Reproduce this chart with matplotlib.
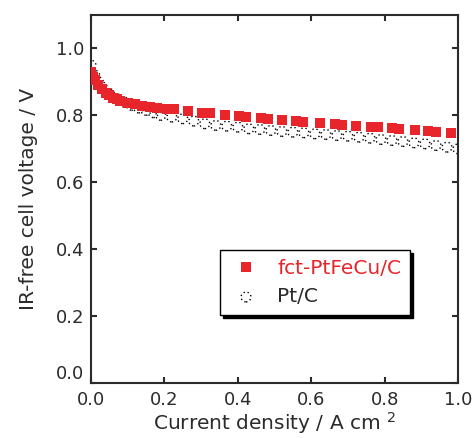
import matplotlib
matplotlib.use("Agg")
import matplotlib.pyplot as plt
from matplotlib.ticker import FormatStrFormatter

# fct-PtFeCu/C (red squares)
fct_j = [0.000, 0.005, 0.01, 0.02, 0.03, 0.04, 0.05, 0.06, 0.07, 0.08,
         0.10, 0.12, 0.14, 0.16, 0.18, 0.206, 0.226, 0.263, 0.302, 0.324,
         0.364, 0.403, 0.422, 0.462, 0.482, 0.520, 0.559, 0.579, 0.623,
         0.665, 0.684, 0.722, 0.762, 0.782, 0.819, 0.839, 0.882, 0.918,
         0.940, 0.981]
fct_v = [0.930, 0.915, 0.905, 0.890, 0.878, 0.868, 0.860, 0.853, 0.848, 0.843,
         0.838, 0.833, 0.829, 0.826, 0.823, 0.820, 0.818, 0.814, 0.808, 0.806,
         0.802, 0.797, 0.795, 0.792, 0.790, 0.786, 0.783, 0.781, 0.778,
         0.774, 0.772, 0.769, 0.766, 0.764, 0.761, 0.759, 0.756, 0.753,
         0.751, 0.748]

# Pt/C (dotted open circles)
pt_j = [0.00, 0.01, 0.02, 0.03, 0.05, 0.07, 0.09, 0.11, 0.13, 0.15,
        0.17, 0.19, 0.22, 0.25, 0.28, 0.31, 0.34, 0.37, 0.40, 0.43,
        0.46, 0.49, 0.52, 0.55, 0.58, 0.61, 0.64, 0.67, 0.70, 0.73,
        0.76, 0.79, 0.82, 0.85, 0.88, 0.91, 0.94, 0.97, 1.00]
pt_v = [0.950, 0.920, 0.900, 0.885, 0.865, 0.850, 0.840, 0.830, 0.822, 0.815,
        0.808, 0.800, 0.795, 0.790, 0.783, 0.775, 0.770, 0.768, 0.765, 0.760,
        0.758, 0.755, 0.752, 0.750, 0.748, 0.745, 0.743, 0.740, 0.738, 0.735,
        0.732, 0.728, 0.725, 0.722, 0.718, 0.715, 0.710, 0.705, 0.700]

ticks = [0.0, 0.2, 0.4, 0.6, 0.8, 1.0]

red = "#e8252a"
ink = "#2b2b2b"

fig = plt.figure(figsize=(4.75, 4.38), dpi=100)
ax = fig.add_axes([0.1916, 0.1256, 0.7726, 0.8402])

ax.plot(fct_j, fct_v, "s", color=red, markersize=7.5, markeredgewidth=0,
        label="fct-PtFeCu/C", zorder=3)
ax.scatter(pt_j, pt_v, s=50, facecolors="none", edgecolors="k",
           linewidths=1.0, linestyles=(0, (1, 2)), label="Pt/C", zorder=2)

ax.set_xlim(0, 1.0)
ax.set_ylim(0, 1.1)
ax.set_xticks(ticks)
ax.set_yticks(ticks)
ax.xaxis.set_major_formatter(FormatStrFormatter("%.1f"))
ax.yaxis.set_major_formatter(FormatStrFormatter("%.1f"))
ax.tick_params(direction="in", length=4, width=1.5, top=True, right=True,
               labelsize=13, colors=ink)
ax.tick_params(axis="x", pad=6)
ax.tick_params(axis="y", pad=5)
for s in ax.spines.values():
    s.set_linewidth(1.5)
    s.set_color(ink)

# lift the y "0.0" a little so it clears the x "0.0"
ax.yaxis.get_major_ticks()[0].label1.set_verticalalignment("bottom")

ax.set_xlabel("Current density / A cm $^{2}$", fontsize=14.5, color=ink, labelpad=0.5)
ax.set_ylabel("IR-free cell voltage / V", fontsize=14.5, color=ink, labelpad=13)

leg = ax.legend(loc="upper left", bbox_to_anchor=(0.351, 0.361), frameon=True,
                fancybox=False, shadow={"color": "black", "alpha": 1.0},
                edgecolor="black", fontsize=14.5, handletextpad=0.7,
                borderpad=0.45, handlelength=1.7, borderaxespad=0,
                labelspacing=0.45)
leg.get_frame().set_linewidth(1.0)
leg.get_texts()[0].set_color(red)
leg.get_texts()[1].set_color(ink)

fig.savefig("out.png", dpi=100)
